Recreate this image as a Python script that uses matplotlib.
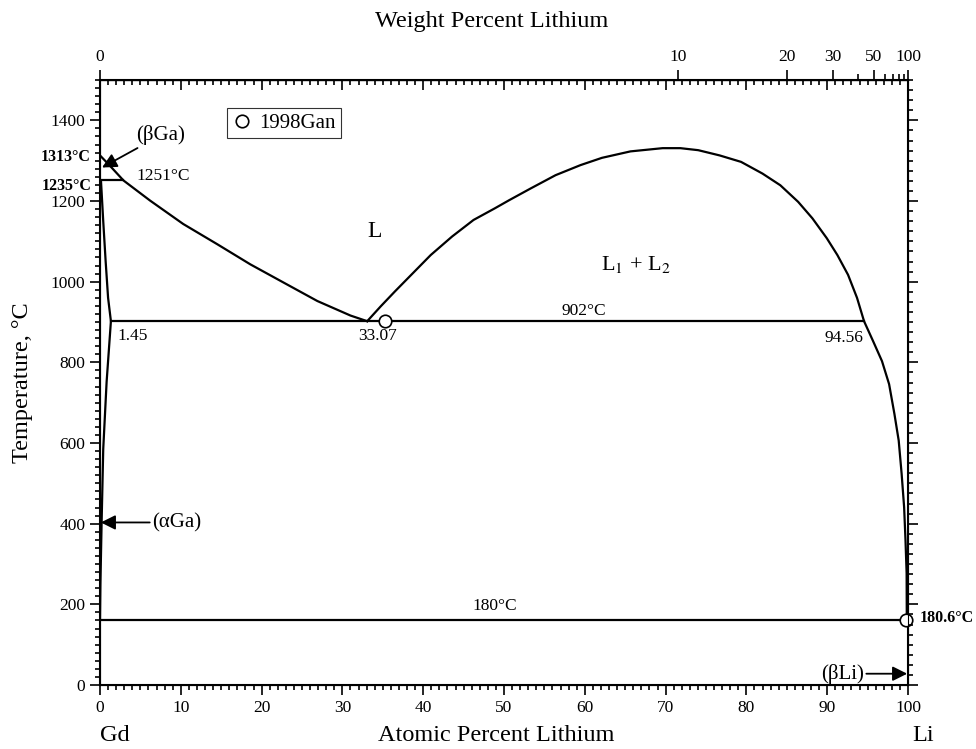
import matplotlib
matplotlib.use("Agg")
import matplotlib.pyplot as plt
from matplotlib.ticker import MultipleLocator, FixedLocator, NullFormatter
from matplotlib.lines import Line2D
import numpy as np

plt.rcParams['font.family'] = ['Liberation Serif', 'DejaVu Serif']
plt.rcParams['mathtext.fontset'] = 'stix'

# phase boundaries, atomic percent Li vs temperature (C)
liq_gd_x = [0, 1.2, 2.9, 6.2, 10.3, 14.5, 18.6, 22.7, 26.9, 31.0, 33.07]
liq_gd_t = [1313, 1288, 1251, 1201, 1143, 1093, 1043, 998, 952, 916, 902]

solvus_x = [0.12, 0.4, 0.7, 1.0, 1.35, 0.82, 0.4, 0.2, 0.05, 0.0]
solvus_t = [1251, 1150, 1050, 960, 902, 752, 585, 403, 250, 162]

gap_x = [33.07, 34.75, 36.51, 38.72, 40.93, 43.58, 46.23, 48.88, 50.64, 53.29,
         56.38, 59.47, 62.12, 65.65, 69.63, 71.83, 74.04, 76.69, 79.34, 81.99,
         84.20, 86.40, 88.17, 89.94, 91.26, 92.58, 93.69, 94.56, 95.67, 96.78,
         97.66, 98.32, 98.85, 99.21, 99.52, 99.69, 99.83, 99.85]
gap_t = [902, 939, 976, 1021, 1066, 1112, 1153, 1182, 1202, 1231,
         1264, 1289, 1307, 1323, 1331, 1331, 1326, 1313, 1297, 1268,
         1239, 1198, 1157, 1108, 1066, 1017, 960, 902, 853, 803,
         746, 672, 606, 524, 441, 359, 277, 162]

monotectic_x = [1.35, 94.56]
monotectic_t = [902, 902]
peritectic_x = [0, 2.9]
peritectic_t = [1251, 1251]
eutectic_x = [0, 99.85]
eutectic_t = [162, 162]

gan_x = [35.3, 99.8]
gan_t = [902, 162]

wt_ticks = [0, 10, 20, 30, 40, 50, 60, 70, 80, 90, 100]
wt_labels = [0, 10, 20, 30, 50, 100]

M_GD = 157.25
M_LI = 6.94


def at2wt(x):
    x = np.asarray(x, dtype=float)
    return 100 * x * M_LI / (x * M_LI + (100 - x) * M_GD)


def wt2at(w):
    w = np.asarray(w, dtype=float)
    return 100 * (w / M_LI) / (w / M_LI + (100 - w) / M_GD)


fig = plt.figure(figsize=(9.76, 7.49), dpi=100)
ax = fig.add_axes([100 / 976, 64 / 749, 808 / 976, 605 / 749])

lw = 1.6
ax.plot(liq_gd_x, liq_gd_t, 'k-', lw=lw)
ax.plot(solvus_x, solvus_t, 'k-', lw=lw)
ax.plot(gap_x, gap_t, 'k-', lw=lw)
ax.plot(monotectic_x, monotectic_t, 'k-', lw=lw)
ax.plot(peritectic_x, peritectic_t, 'k-', lw=lw)
ax.plot(eutectic_x, eutectic_t, 'k-', lw=lw)
ax.plot(gan_x, gan_t, 'o', ms=9, mfc='white', mec='k', mew=1.2, clip_on=False, zorder=5)

ax.set_xlim(0, 100)
ax.set_ylim(0, 1500)
for s in ax.spines.values():
    s.set_linewidth(1.5)

ax.xaxis.set_major_locator(MultipleLocator(10))
ax.xaxis.set_minor_locator(MultipleLocator(1))
ax.yaxis.set_major_locator(MultipleLocator(200))
ax.yaxis.set_minor_locator(MultipleLocator(20))
ax.tick_params(which='both', direction='out', width=1.2, labelsize=12.5, top=False, right=False)
ax.tick_params(which='major', length=7)
ax.tick_params(which='minor', length=3.5)

# right axis ticks
axr = ax.twinx()
axr.set_ylim(0, 1500)
axr.yaxis.set_major_locator(MultipleLocator(200))
axr.yaxis.set_minor_locator(MultipleLocator(25))
axr.yaxis.set_major_formatter(NullFormatter())
axr.tick_params(which='both', direction='out', width=1.2)
axr.tick_params(which='major', length=7)
axr.tick_params(which='minor', length=3.5)

# top: mirrored atomic ticks (inward)
top_at = ax.secondary_xaxis('top')
top_at.xaxis.set_major_locator(MultipleLocator(10))
top_at.xaxis.set_minor_locator(MultipleLocator(1))
top_at.xaxis.set_major_formatter(NullFormatter())
top_at.tick_params(which='both', direction='in', width=1.2)
top_at.tick_params(which='major', length=7)
top_at.tick_params(which='minor', length=3.5)

# top: weight percent
top_wt = ax.secondary_xaxis('top', functions=(at2wt, wt2at))
top_wt.xaxis.set_major_locator(FixedLocator(wt_labels))
top_wt.xaxis.set_minor_locator(FixedLocator([w for w in wt_ticks if w not in wt_labels]))
top_wt.tick_params(which='both', direction='out', width=1.2, labelsize=12.5)
top_wt.tick_params(which='major', length=7)
top_wt.tick_params(which='minor', length=4)

ax.set_ylabel('Temperature, °C', fontsize=17.5)
ax.yaxis.set_label_coords(-0.083, 0.5)

xt = ax.get_xaxis_transform()
ax.text(48.5, 1.096, 'Weight Percent Lithium', transform=xt, ha='center', va='center', fontsize=17.5)
ax.text(49, -0.083, 'Atomic Percent Lithium', transform=xt, ha='center', va='center', fontsize=17.5)
ax.text(0, -0.083, 'Gd', transform=xt, ha='left', va='center', fontsize=17.5)
ax.text(100.5, -0.083, 'Li', transform=xt, ha='left', va='center', fontsize=17.5)

# region and point labels
ax.text(34, 1125, 'L', fontsize=17, ha='center', va='center')
ax.text(66.3, 1042, r'L$_1$ + L$_2$', fontsize=16, ha='center', va='center')
ax.text(59.9, 908, '902°C', fontsize=12.5, ha='center', va='bottom')
ax.text(4.5, 1263, '1251°C', fontsize=12.5, ha='left', va='center')
ax.text(2.1, 865, '1.45', fontsize=12.5, ha='left', va='center')
ax.text(34.3, 865, '33.07', fontsize=12.5, ha='center', va='center')
ax.text(92.1, 861, '94.56', fontsize=12.5, ha='center', va='center')
ax.text(48.9, 195, '180°C', fontsize=12.5, ha='center', va='center')
ax.text(-1.2, 1308, '1313°C', fontsize=11.5, weight='bold', ha='right', va='center')
ax.text(-1.0, 1238, '1235°C', fontsize=11.5, weight='bold', ha='right', va='center')
ax.text(101.4, 167, '180.6°C', fontsize=11.5, weight='bold', ha='left', va='center')

arrow = dict(arrowstyle='-|>', color='k', lw=1.3, mutation_scale=22, shrinkA=0, shrinkB=0)
ax.annotate('(βGa)', xy=(0.25, 1283), xytext=(4.5, 1363), fontsize=15,
            ha='left', va='center', arrowprops=arrow)
ax.annotate('(αGa)', xy=(0.1, 403), xytext=(6.5, 403), fontsize=15,
            ha='left', va='center', arrowprops=arrow)
ax.annotate('(βLi)', xy=(99.9, 28), xytext=(94.5, 28), fontsize=15,
            ha='right', va='center', arrowprops=arrow)

handle = Line2D([], [], ls='none', marker='o', ms=9, mfc='white', mec='k', mew=1.2)
leg = ax.legend([handle], ['1998Gan'], loc='upper left', bbox_to_anchor=(0.157, 0.953),
                borderaxespad=0, fancybox=False, edgecolor='k', fontsize=15,
                handletextpad=0.3, handlelength=1.0, borderpad=0.25)
leg.get_frame().set_linewidth(0.8)

fig.savefig('out.png', dpi=100)
